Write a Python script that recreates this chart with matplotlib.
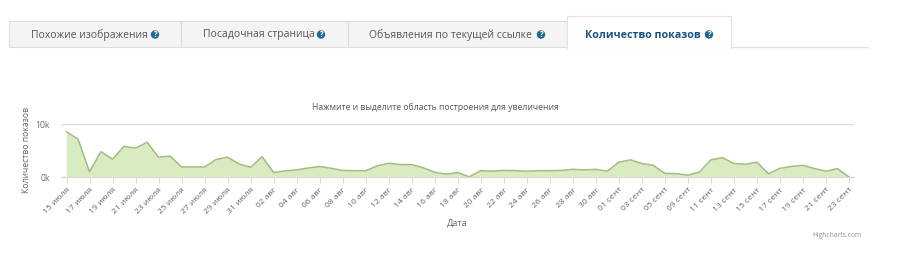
import matplotlib
matplotlib.use('Agg')
import matplotlib.pyplot as plt
from matplotlib.patches import Rectangle, Circle

plt.rcParams['font.family'] = ['Open Sans', 'DejaVu Sans']

# every other date is hidden on the axis, the labels below are the visible ones
tick_labels = ['15 июля', '17 июля', '19 июля', '21 июля', '23 июля', '25 июля', '27 июля',
               '29 июля', '31 июля', '02 авг', '04 авг', '06 авг', '08 авг', '10 авг',
               '12 авг', '14 авг', '16 авг', '18 авг', '20 авг', '22 авг', '24 авг',
               '26 авг', '28 авг', '30 авг', '01 сент', '03 сент', '05 сент', '09 сент',
               '11 сент', '13 сент', '15 сент', '17 сент', '19 сент', '21 сент', '23 сент']
# показы, тысячи
views = [8.6, 7.2, 1.05, 4.85, 3.4, 5.85, 5.5, 6.6, 3.8, 4.0, 1.95, 1.95, 1.95, 3.35, 3.8,
         2.5, 1.9, 3.9, 0.9, 1.2, 1.4, 1.75, 2.05, 1.7, 1.3, 1.25, 1.25, 2.15, 2.65, 2.4,
         2.4, 1.8, 0.95, 0.6, 0.9, 0.1, 1.25, 1.15, 1.3, 1.25, 1.15, 1.25, 1.25, 1.3, 1.5,
         1.4, 1.5, 1.15, 2.85, 3.3, 2.6, 2.25, 0.75, 0.7, 0.4, 1.0, 3.3, 3.7, 2.6, 2.45,
         2.85, 0.65, 1.7, 2.05, 2.25, 1.65, 1.15, 1.65, 0.05]
y_ticks = [0, 10]
y_tick_labels = ['0k', '10k']
tabs = ['Похожие изображения', 'Посадочная страница', 'Объявления по текущей ссылке']
active_tab = 'Количество показов'

W, H = 900, 261
fig = plt.figure(figsize=(W / 100, H / 100), dpi=100)

# page overlay in pixel coords
bg = fig.add_axes([0, 0, 1, 1])
bg.set_xlim(0, W)
bg.set_ylim(H, 0)
bg.axis('off')

edges = [9, 180.5, 347.5, 567]
text_x = [31, 203, 369]
icon_x = [155, 321, 541]
for i in range(3):
    bg.add_patch(Rectangle((edges[i], 20.5), edges[i + 1] - edges[i], 26.5, fc='#f4f4f4', ec='#dddddd', lw=0.8))
    bg.text(text_x[i], 35, tabs[i], fontsize=7.5, color='#555555', va='center', ha='left')
    bg.add_patch(Circle((icon_x[i], 34.5), 4.2, fc='#1f6a94', ec='none'))
    bg.text(icon_x[i], 34.6, '?', fontsize=5.5, color='white', weight='bold', va='center', ha='center')

bg.plot([731, 868], [47.3, 47.3], color='#e2e2e2', lw=1)
bg.add_patch(Rectangle((567, 16), 164, 31.5, fc='white', ec='#e2e2e2', lw=0.8))
bg.plot([567.6, 730.4], [47.6, 47.6], color='white', lw=0.8)
bg.text(585, 35, active_tab, fontsize=7.7, color='#17537d', weight='bold', va='center', ha='left')
bg.add_patch(Circle((709, 34.5), 4.2, fc='#1f6a94', ec='none'))
bg.text(709, 34.6, '?', fontsize=5.5, color='white', weight='bold', va='center', ha='center')

bg.text(435, 107.5, 'Нажмите и выделите область построения для увеличения', fontsize=6.2,
        color='#555555', ha='center', va='center')
bg.text(457.5, 223, 'Дата', fontsize=6.6, color='#666666', ha='center', va='center')
bg.text(27, 150, 'Количество показов', fontsize=6.2, color='#666666', rotation=90, ha='center', va='center')
bg.text(862, 235.5, 'Highcharts.com', fontsize=4.9, color='#909090', ha='right', va='center')

# chart, plot area 61..854 x 124.3..177.3 px
ax = fig.add_axes([61 / W, 1 - 177.3 / H, (854 - 61) / W, 53 / H])
ax.patch.set_alpha(0)
x = range(len(views))
ax.fill_between(x, views, 0, color='#d9ebc1', lw=0)
ax.plot(x, views, color='#a3bb7f', lw=1.1, solid_joinstyle='round')
ax.set_xlim(-5.5 / 11.5, 68 + 5 / 11.5)
ax.set_ylim(0, 10)
ax.set_yticks(y_ticks)
ax.set_yticklabels(y_tick_labels, fontsize=6.2, color='#666666')
ax.set_xticks(list(range(0, len(views), 2)))
ax.set_xticklabels(tick_labels, fontsize=6.1, color='#666666', rotation=45, ha='right',
                   rotation_mode='anchor')
ax.tick_params(axis='y', length=0, pad=8)
ax.tick_params(axis='x', length=4.5, width=0.7, color='#d8d8d8', pad=2)
ax.grid(axis='y', color='#dddddd', lw=0.9)
ax.set_axisbelow(True)
for s in ['top', 'left', 'right']:
    ax.spines[s].set_visible(False)
ax.spines['bottom'].set_color('#d8d8d8')
ax.spines['bottom'].set_linewidth(0.9)

fig.savefig('out.png', dpi=100)
